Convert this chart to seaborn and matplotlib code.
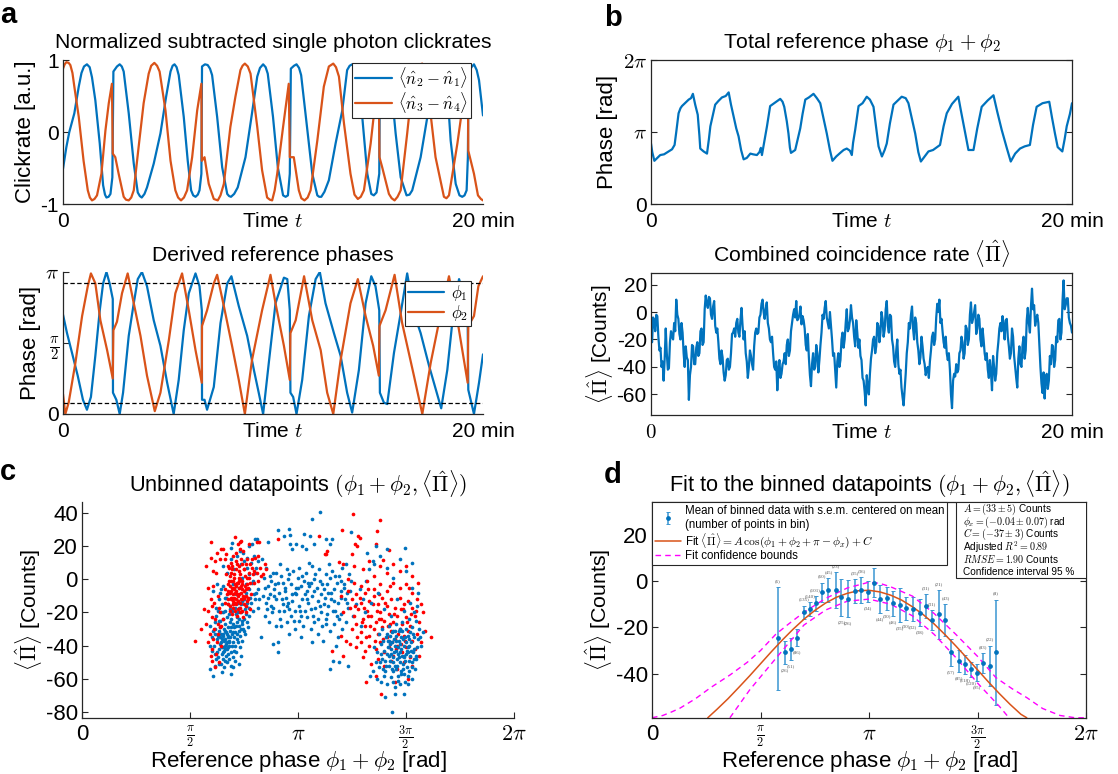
import numpy as np
import matplotlib
matplotlib.use("Agg")
import matplotlib.pyplot as plt
from matplotlib.patches import Rectangle
import seaborn as sns

BLUE = '#0072BD'
ORANGE = '#D95319'
RED = '#FF0000'
MAGENTA = '#FF00FF'
DARK = '#262626'

# panel a, top: clickrates as (t, value) pairs
n21_pts = [0,-.51,.16,-.21,.3,0,.54,.26,.75,.63,.88,.82,1.0,.91,1.14,.94,1.27,.90,1.38,.76,1.54,.44,1.75,-.16,1.91,-.74,2.0,-.87,2.07,-.91,2.17,-.90,2.26,-.86,2.35,-.63,2.4,.84,2.57,.91,2.7,.94,2.8,.91,2.89,.84,3.13,.26,3.37,-.44,3.56,-.84,3.66,-.89,3.75,-.91,3.88,-.86,4.0,-.77,4.32,-.44,4.64,-.02,4.91,.49,5.12,.84,5.22,.92,5.31,.94,5.41,.90,5.51,.79,5.75,.21,5.94,-.40,6.1,-.81,6.2,-.88,6.31,-.9,6.42,-.87,6.5,-.81,6.59,-.58,6.62,.91,6.76,.94,6.89,.93,7.0,.88,7.1,.79,7.34,.21,7.58,-.49,7.82,-.86,7.91,-.89,8.0,-.9,8.15,-.86,8.32,-.77,8.69,-.35,9.0,.26,9.25,.77,9.38,.89,9.53,.94,9.65,.90,9.75,.81,10.0,.21,10.23,-.49,10.48,-.88,10.6,-.9,10.71,-.88,10.8,-.58,10.85,.88,11.0,.92,11.12,.94,11.24,.89,11.34,.79,11.6,.12,11.87,-.58,12.11,-.88,12.2,-.9,12.3,-.9,12.45,-.83,12.66,-.67,12.98,-.16,13.3,.3,13.53,.86,13.65,.92,13.77,.94,13.9,.9,14.04,.81,14.25,.21,14.49,-.58,14.68,-.86,14.8,-.88,14.93,-.84,15.06,-.58,15.09,.91,15.36,.93,15.48,.87,15.6,.72,15.84,-.02,16.08,-.63,16.36,-.88,16.5,-.87,16.63,-.81,17.03,-.35,17.35,.21,17.66,.84,17.85,.92,18.01,.93,18.15,.87,18.27,.72,18.46,-.12,18.7,-.72,18.88,-.88,19.01,-.9,19.12,-.88,19.22,-.81,19.28,-.35,19.31,.81,19.45,.9,19.57,.94,19.7,.86,19.81,.72,20,.23]
n34_pts = [0,.88,.08,.94,.16,.97,.27,.96,.35,.93,.45,.82,.54,.63,.75,.21,.98,-.4,1.18,-.81,1.28,-.91,1.38,-.95,1.5,-.93,1.62,-.88,1.83,-.58,2.02,.02,2.18,.4,2.33,.67,2.37,-.3,2.49,-.35,2.65,-.58,2.89,-.9,3.0,-.94,3.13,-.95,3.25,-.91,3.37,-.81,3.6,-.21,3.84,.4,4.08,.81,4.2,.92,4.35,.96,4.48,.92,4.6,.84,4.88,.3,5.12,-.4,5.35,-.81,5.48,-.91,5.62,-.95,5.76,-.91,5.91,-.81,6.15,-.35,6.39,.3,6.59,.67,6.61,-.4,6.74,-.35,6.94,-.72,7.18,-.93,7.37,-.95,7.5,-.88,7.66,-.72,7.97,.07,8.21,.49,8.45,.86,8.55,.92,8.66,.95,8.8,.91,8.93,.81,9.25,.07,9.48,-.53,9.72,-.91,9.85,-.94,9.96,-.95,10.08,-.81,10.2,-.58,10.48,.07,10.75,.67,10.8,-.35,10.99,-.35,11.23,-.81,11.35,-.92,11.5,-.95,11.65,-.91,11.79,-.81,12.11,-.12,12.42,.63,12.66,.91,12.87,.95,13.0,.9,13.14,.77,13.38,.12,13.69,-.58,13.88,-.87,14.04,-.93,14.18,-.9,14.33,-.81,14.65,-.16,14.88,.44,15.04,.67,15.07,-.35,15.2,-.49,15.52,-.86,15.65,-.92,15.79,-.95,15.93,-.9,16.08,-.81,16.39,-.02,16.71,.86,16.9,.93,17.11,.95,17.27,.78,17.43,.44,17.74,-.35,18.14,-.9,18.26,-.92,18.38,-.88,18.78,-.16,19.09,.49,19.28,.67,19.3,-.26,19.57,-.58,19.76,-.88,19.9,-.93,20,-.95]

# panel a, bottom: phases in units of pi
t_phi1 = [0,.19,.43,.7,.95,1.14,1.33,1.54,1.75,1.91,2.07,2.22,2.37,2.38,2.54,2.7,2.86,3.13,3.37,3.56,3.76,4,4.32,4.64,4.96,5.27,5.51,5.75,5.99,6.31,6.5,6.61,6.62,6.74,6.86,7.18,7.5,7.82,8.02,8.37,8.77,9.09,9.32,9.53,9.8,10.12,10.52,10.68,10.8,10.83,10.96,11.12,11.39,11.71,12.03,12.23,12.5,12.9,13.22,13.53,13.77,14.09,14.41,14.68,14.88,15.06,15.09,15.28,15.44,15.76,16.08,16.39,16.71,17.03,17.43,18.01,18.3,18.62,18.86,19.09,19.27,19.3,19.57,19.81,20]
phi1 = [.70,.57,.43,.27,.10,.03,.12,.41,.73,.92,1.0,.92,.81,.15,.10,0,.15,.55,.78,.95,1.0,.90,.66,.48,.22,0,.24,.59,.85,.99,.9,.73,.10,.1,.03,.19,.64,.92,.97,.76,.55,.31,.15,0,.36,.78,.96,.95,.73,.15,.12,0,.24,.69,.95,1.0,.78,.57,.41,.15,.01,.31,.78,.97,.9,.73,.15,.08,.07,.43,.71,.99,.71,.57,.34,.04,.31,.76,.95,.83,.66,.17,0,.22,.42]
t_phi2 = [0,.11,.27,.59,.91,1.18,1.33,1.54,1.78,2.1,2.37,2.4,2.57,2.81,3.08,3.37,3.69,4,4.37,4.64,5.04,5.35,5.67,5.99,6.31,6.61,6.62,6.86,7.18,7.34,7.66,8.05,8.37,8.66,9.0,9.48,9.88,10.12,10.52,10.8,10.83,11.08,11.48,11.87,12.27,12.58,12.87,13.22,13.69,14.04,14.41,14.77,15.04,15.07,15.36,15.79,16.15,16.71,17.11,17.51,17.99,18.38,18.78,19.27,19.3,19.57,19.78,20]
phi2 = [.14,0,.08,.36,.69,.9,.99,.92,.66,.45,.25,.59,.65,.85,.99,.78,.55,.27,.02,.15,.52,.85,.99,.73,.45,.22,.62,.73,.92,.98,.76,.48,.24,0,.38,.73,.98,.78,.48,.24,.57,.66,.97,.66,.45,.15,0,.38,.78,.95,.69,.48,.27,.62,.73,.98,.64,.27,0,.36,.71,.97,.66,.22,.62,.69,.9,.97]
phase_guides = [.922, .075]

# panel b, top: total phase in units of pi, (t, value) pairs
total_pts = [0,.84,.06,.72,.16,.60,.3,.64,.44,.68,.62,.69,.84,.73,1.0,.76,1.12,.82,1.2,1.0,1.31,1.26,1.4,1.33,1.47,1.36,1.65,1.41,1.79,1.45,1.9,1.47,1.99,1.53,2.1,1.38,2.22,1.24,2.3,.95,2.34,.77,2.5,.73,2.66,.70,2.75,.9,2.82,1.08,2.95,1.25,3.05,1.38,3.2,1.43,3.37,1.48,3.55,1.5,3.69,1.55,3.8,1.38,3.92,1.22,4.05,1.05,4.16,.94,4.28,.75,4.4,.62,4.55,.64,4.72,.70,4.85,.69,5.03,.68,5.15,.72,5.22,.78,5.27,.68,5.4,.9,5.51,1.08,5.66,1.36,5.85,1.4,6.14,1.46,6.25,1.42,6.33,1.35,6.45,1.15,6.53,.98,6.6,.78,6.65,.71,6.85,.75,6.97,.9,7.09,1.05,7.2,1.25,7.33,1.45,7.5,1.48,7.72,1.53,7.88,1.47,8.04,1.4,8.2,1.18,8.35,.98,8.5,.75,8.62,.60,8.8,.66,8.99,.71,9.15,.75,9.3,.77,9.45,.74,9.54,.68,9.6,.85,9.7,1.03,9.86,1.36,10.05,1.4,10.25,1.49,10.4,1.45,10.57,1.35,10.7,1.05,10.81,.8,10.97,.66,11.1,.75,11.2,.84,11.35,1.12,11.52,1.38,11.7,1.43,11.91,1.49,12.1,1.47,12.23,1.4,12.4,1.18,12.55,.98,12.7,.72,12.82,.59,13.0,.66,13.18,.73,13.4,.75,13.73,.82,13.9,1.08,14.05,1.26,14.3,1.39,14.6,1.49,14.72,1.3,14.84,1.12,14.95,.95,15.08,.75,15.32,.75,15.5,1.05,15.71,1.35,16.0,1.44,16.27,1.51,16.45,1.28,16.66,1.03,16.9,.78,17.09,.59,17.3,.7,17.53,.77,17.75,.8,18.0,.82,18.15,1.1,18.32,1.35,18.6,1.4,18.92,1.42,19.05,1.2,19.19,.98,19.32,.79,19.54,.73,19.65,.9,19.75,1.08,19.9,1.25,20,1.4]

# panel b, bottom: coincidence rate, one reading every 0.05 min
rate = [-15,-22,-4,-6,-14,-2,-3,-18,-28,-26,-40,-36,-50,-34,-12,-30,-42,-41,-22,-14,-18,-20,-8,-14,9,-2,-5,-16,-20,-8,-15,-30,-40,-25,-33,-35,-64,-46,-40,-24,
        -25,-38,-38,-26,-22,-32,-30,-14,-12,-24,-22,2,12,6,3,11,10,-2,-5,4,8,-10,-15,-12,-22,-34,-38,-28,-33,-44,-50,-46,-35,-34,-42,-40,-30,-16,-15,-12,
        -18,-8,-5,-15,-18,-6,3,-10,-20,-14,-30,-36,-48,-40,-28,-32,-38,-42,-25,-15,-12,-16,-15,-4,-2,6,9,0,-5,2,7,-8,-12,-20,-22,-18,-30,-40,-42,-36,
        -57,-42,-35,-48,-45,-38,-36,-30,-38,-24,-20,-32,-28,-14,-8,-2,2,-4,8,-6,-5,-2,4,-9,-3,-6,-12,-24,-28,-16,-33,-46,-54,-38,-30,-42,-40,-24,-30,-44,
        -35,-24,-15,-2,-5,3,8,-4,-8,-12,0,-10,-20,-32,-30,-42,-55,-36,-30,-40,-35,-20,-15,-26,-20,-8,2,-14,-12,-6,5,-4,-8,-18,-25,-6,-15,-26,-20,-32,
        -35,-48,-50,-58,-68,-46,-55,-60,-45,-34,-28,-20,-18,-30,-25,-8,-10,-22,-15,0,-5,-18,-13,2,8,-10,-15,-2,-3,-20,-25,-36,-40,-28,-20,-38,-45,-42,-55,-62,
        -68,-56,-45,-30,-22,-8,-12,-2,4,-12,-20,-4,-8,-22,-28,-38,-33,-18,-25,-34,-38,-46,-42,-40,-48,-36,-28,-18,-15,-24,-20,-4,6,0,9,-8,-5,-14,-22,-26,
        -18,-30,-35,-30,-42,-60,-70,-50,-45,-47,-38,-44,-42,-30,-28,-18,-22,-34,-30,-10,-12,-24,-20,-2,7,-8,-5,0,5,-16,-12,-2,-5,-20,-25,-12,-20,-30,-35,-30,
        -42,-48,-35,-44,-57,-32,-40,-50,-45,-30,-22,-12,-8,-14,-3,-10,-20,-6,-5,-18,-25,-34,-30,-12,-18,-32,-40,-48,-55,-34,-25,-38,-40,-24,-18,-34,-28,-6,3,-8,
        -15,4,17,2,5,-10,-5,-2,-8,-24,-40,-52,-59,-44,-63,-48,-45,-56,-50,-32,-38,-24,-25,-40,-35,-18,-22,-6,-5,-20,-15,8,23,2,5,10,10,-4,-8,-10,-15]
t_rate = np.arange(len(rate)) / 20

# panel c: unbinned points, (phase / pi, counts) pairs
blue_left = [.617,-30,.632,-25,.601,-35,.643,-20,.594,-28,.612,-40,.627,-44,.655,-33,.661,-27,.673,-38,.684,-31,.692,-24,.703,-35,.711,-28,.724,-20,.736,-30,.741,-25,.753,-18,.762,-26,.774,-22,.642,-38,.651,-41,.664,-36,.671,-42,.682,-37,.694,-40,.705,-43,.716,-36,.722,-38,.733,-34,.745,-30,.623,-36,.637,-39,.646,-45,.653,-48,.667,-46,.676,-34,.688,-44,.697,-47,.707,-49,.713,-44,.726,-51,.734,-46,.621,-48,.634,-51,.604,-43,.592,-40,.614,-52,.657,-53,.672,-50,.691,-52,.662,-31,.675,-29,.683,-26,.652,-24,.635,-31,.622,-22,.644,-33,.696,-33,.702,-29,.717,-23,.725,-31,.743,-37,.756,-33,.768,-29,.731,-41,.665,-39,.678,-35,.681,-40,.658,-37,.647,-41,
 .608,-58,.646,-56,.692,-57,.592,-54,.668,-32,.659,-43,.649,-36,.674,-41,.639,-29,.687,-35,.698,-27,.709,-32,.719,-26,.728,-24,.738,-20,.748,-24,.758,-21,.772,-17,.782,-14,.791,-19,.803,-12,.813,-17,.794,-9,.776,-11,.766,-14,.752,-12,.738,-15,.724,-14,.708,-17,.695,-19,.679,-21,.663,-19,.648,-15,.633,-12,.619,-17,.606,-7,.626,-3,.641,-8,.654,-4,.668,-11,.682,-8,.697,-3,.711,-9,.726,-5,.741,1,.757,-3,.771,3,.786,-2,.801,4,.815,-6,.655,8,.671,4,.689,12,.704,6,.719,14,.735,9,.752,11,.766,7,.782,10,.797,14,.806,7,.817,11,.688,19,.695,22,.731,17,.771,20,.785,21.5,.8,24.5,.811,24.5,.746,16,.764,13,
 .651,-34,.656,-30,.67,-33,.679,-38,.689,-29,.7,-32,.66,-40,.654,-44,.664,-42,.675,-45,.641,-35,.636,-42,.629,-34,.615,-33,.606,-31,.618,-26,.628,-19,.641,-25,.654,-20,.669,-23,.683,-18,.697,-15,.712,-21,.727,-17,.74,-13,.757,-16,.698,-38,.708,-40,.718,-33,.729,-28,.74,-27,.75,-31,.68,-48,.661,-49,.7,-53,.645,-51,.63,-47,.617,-45,.677,-15,.66,-11,.645,-6,.76,-8,.775,-6,.79,-1,.805,-8,.82,-12]
blue_mid = [.86,22.5,.908,29.5,.958,30.6,.962,26.5,.935,26,1.03,27.5,1.054,26,1.103,40.6,1.065,36.6,1.13,24.5,1.157,24,1.246,28.5,1.15,21,1.072,21.5,.992,21,.965,21,1.018,20,1.038,18,.97,18,
 .835,12,.853,7,.886,4,.917,9,.948,6,.977,5,1.006,7,1.036,4,1.051,10,1.067,8,1.097,6,1.128,3,1.142,9,1.158,5,1.19,2,1.205,7,1.221,9,1.238,3,.842,1,.859,-4,.874,-1,.891,-6,.906,-2,.923,2,.938,-5,.952,0,.968,-3,.984,-8,.999,1,1.013,-4,1.028,-1,1.043,-7,1.059,-2,1.074,0,1.089,-5,1.103,-1,1.119,-6,1.135,-3,1.149,1,1.165,-6,1.181,-2,1.197,-7,1.211,-3,1.228,-8,1.245,-1,
 .838,-10,.854,-14,.869,-9,.884,-17,.899,-12,.914,-8,.93,-15,.945,-11,.959,-18,.974,-13,.989,-9,1.004,-16,1.018,-12,1.033,-19,1.048,-14,1.063,-10,1.078,-17,1.093,-13,1.108,-20,1.124,-11,1.139,-16,1.154,-12,1.169,-19,1.185,-14,1.201,-21,1.216,-12,1.232,-17,.849,-22,.866,-26,.881,-20,.898,-28,.915,-24,.933,-19,.951,-26,.969,-22,.987,-30,1.003,-25,1.021,-28,1.04,-23,1.058,-30,1.076,-26,1.094,-33,1.111,-28,1.13,-24,1.148,-31,1.166,-27,1.184,-35,1.202,-30,1.22,-26,.882,-39,.908,-38,.908,-44,.831,-35,1.146,-54,1.231,-52,1.192,-50,1.162,-49,.96,-33,1.012,-35,1.065,-38,1.115,-37,1.177,-40,1.255,-22,1.27,-15,1.286,-6,1.301,-12,1.315,-1,1.33,6,1.345,11,
 .846,-5,.862,-11,.877,-16,.893,-3,.91,-19,.925,-12,.941,-7,.956,-14,.971,-9,.986,-19,1.002,-5,1.016,-22,1.031,-9,1.046,-2,1.06,-18,1.075,-7,1.091,-24,1.106,-9,1.12,-15,1.136,-21,1.151,-8,1.167,-13,1.182,-22,1.198,-11,1.213,-5,1.229,-14,1.243,-7,.87,2,.9,4,.93,-2,.96,3,.99,-5,1.02,2,1.05,-4,1.08,3,1.11,-3,1.14,-8,1.17,2,1.2,-1,.855,-18,.888,-10,.92,-28,.95,-16,.98,-25,1.01,-19,1.04,-12,1.07,-22,1.1,-16,1.13,-27,1.16,-19,1.19,-24]
blue_right = [1.434,-80,1.403,-71,1.451,-69,1.492,-69,1.332,-58,1.349,-55,1.366,-60,1.382,-62,1.398,-58,1.414,-63,1.431,-59,1.447,-65,1.463,-61,1.478,-57,1.494,-62,1.51,-58,1.526,-60,1.542,-54,1.36,-50,1.376,-53,1.391,-48,1.407,-52,1.422,-46,1.438,-50,1.453,-54,1.469,-47,1.484,-51,1.499,-45,1.515,-49,1.531,-44,1.547,-48,1.352,-41,1.368,-44,1.384,-39,1.399,-43,1.415,-37,1.43,-42,1.446,-36,1.461,-41,1.477,-35,1.492,-40,1.508,-34,1.523,-38,1.539,-42,1.555,-36,1.57,-40,1.58,-32,1.375,-33,1.391,-30,1.406,-35,1.421,-28,1.437,-32,1.452,-27,1.468,-31,1.483,-26,1.499,-30,1.514,-24,1.53,-29,1.546,-25,1.561,-30,1.456,-37,1.471,-44,1.443,-44,1.458,-48,1.474,-39,1.489,-46,1.428,-39,1.412,-45,1.44,-55,1.46,-52,1.475,-55,1.395,-37,1.51,-41,1.505,-53,1.49,-57,1.422,-52,1.402,-55,1.52,-32,1.535,-20,1.55,-16,1.52,-14,1.49,-19,1.46,-12,1.43,-22,1.4,-18,1.37,-8,1.34,-14,1.31,-20,1.29,-28,1.555,-8,1.53,-5,1.5,5,1.47,12,1.44,1,1.41,7,1.38,14,1.35,9,1.32,16,1.36,20,1.41,18,1.497,19,1.528,10,
 1.426,-34,1.434,-38,1.441,-31,1.448,-40,1.455,-34,1.463,-45,1.47,-30,1.478,-42,1.485,-36,1.493,-47,1.5,-38,1.507,-44,1.515,-36,1.522,-43,1.53,-50,1.537,-35,1.545,-46,1.418,-41,1.425,-49,1.433,-54,1.44,-47,1.448,-52,1.456,-43,1.464,-58,1.472,-50,1.48,-46,1.487,-54,1.495,-49,1.503,-43,1.512,-55,1.52,-46,1.528,-53,1.536,-48,1.41,-33,1.42,-37,1.43,-45,1.45,-31,1.466,-37,1.482,-31,1.497,-35,1.516,-40,1.533,-33,1.55,-41,1.565,-35,1.405,-49,1.392,-54,1.385,-45,1.378,-50,1.47,-63,1.44,-62,1.51,-63]
red_left = [.598,22.5,.642,18.5,.654,18.5,.709,25.5,.731,22.5,.737,23,.72,21,.808,22.5,.82,22.5,.774,21.5,.906,24,.845,9,.83,2,.815,-1,.79,3,.802,13,.817,14,
 .66,12,.675,8,.69,10,.7,14,.712,11,.725,8,.735,12,.748,6,.76,9,.772,4,.785,7,.797,5,.668,3,.681,-1,.692,4,.703,1,.714,6,.722,-2,.731,3,.742,-1,.753,2,.764,-3,.775,1,.661,-6,.674,-3,.684,-8,.693,-5,.701,-9,.708,-3,.715,-7,.722,-10,.729,-5,.736,-8,.743,-3,.751,-7,.76,-10,.77,-5,.782,-9,.662,-14,.674,-12,.686,-16,.697,-13,.706,-11,.714,-15,.723,-13,.732,-17,.741,-12,.752,-15,.764,-13,.776,-18,.683,-19,.695,-21,.707,-19,.719,-22,.731,-20,.744,-23,.757,-20,.699,-1,.705,-6,.711,-12,.718,-9,.692,-11,.688,-7,.726,-9,.733,0,.696,8,.711,16,.665,15,.733,18,.746,17,
 .625,16,.615,11,.608,5,.596,13,.64,12,.62,4,.605,-4,.598,-12,.585,-19,.6,-23,.613,-14,.628,-10,.641,-20,.632,-17,.652,-24,.628,-27,.612,-30,.592,-33,.608,-36,.63,-33,.644,-40,.6,-42,.582,-38,.621,-45,.601,-49,.615,-53,.635,-50,.638,-29,.595,-46,.645,-28,.525,-37,.572,-27,.567,-18,.551,-30,.582,-5,.572,8,.6,-16,.618,-24,.625,-38,
 .677,-7,.683,-4,.689,-1,.696,-11,.702,-5,.709,-8,.716,-2,.72,-13,.727,-1,.734,-12,.74,-6,.747,-10,.755,-4,.763,1,.77,-12,.778,-2,.686,2,.694,6,.706,3,.717,9,.728,5,.74,9,.752,6,.764,12,.776,9,.788,12,.67,-9,.678,-15,.688,-12,.699,-17,.71,-14,.72,-18,.73,-14,.74,-19,.75,-11,.76,-16,.77,-11,.682,7,.7,-15,.715,-4,.725,1,.737,-4,.758,-6,.795,-2,.81,4,.825,7,.84,3,.85,6]
red_right = [1.255,39.6,1.378,35.6,1.205,29.5,1.365,29,1.277,26,1.285,25,1.263,21.5,1.274,20,1.362,21,1.095,26,1.423,17.5,1.134,17,1.123,15,1.251,15,1.13,15,1.192,10.5,1.392,11.5,1.615,-35,1.315,-62,1.385,-69,1.208,-46,1.158,-43,
 1.21,9,1.26,8,1.3,6,1.33,11,1.35,2,1.38,8,1.41,4,1.44,9,1.47,5,1.5,8,1.53,2,1.23,0,1.26,-2,1.29,-4,1.32,-1,1.35,-6,1.38,-3,1.41,-7,1.44,-2,1.47,-5,1.5,-3,1.53,-8,1.555,-2,1.2,-10,1.23,-7,1.25,-12,1.27,-9,1.29,-14,1.31,-8,1.33,-13,1.35,-10,1.37,-15,1.39,-11,1.41,-16,1.43,-12,1.45,-17,1.47,-11,1.49,-15,1.51,-13,1.53,-17,1.55,-12,1.57,-15,1.21,-20,1.24,-17,1.26,-22,1.28,-18,1.3,-24,1.32,-19,1.34,-22,1.36,-26,1.38,-20,1.4,-25,1.42,-21,1.44,-26,1.46,-22,1.48,-27,1.5,-23,1.52,-28,1.54,-22,1.56,-26,1.58,-20,1.25,-30,1.27,-27,1.29,-32,1.31,-28,1.33,-34,1.35,-30,1.37,-33,1.39,-29,1.41,-35,1.43,-31,1.45,-36,1.47,-30,1.49,-34,1.51,-31,1.53,-37,1.55,-33,1.57,-38,1.59,-31,1.2,-34,1.22,-37,1.24,-39,1.27,-41,1.29,-38,1.31,-43,1.33,-40,1.36,-42,1.38,-38,1.4,-44,1.42,-41,1.44,-46,1.46,-40,1.48,-44,1.5,-41,1.52,-47,1.54,-42,1.56,-46,1.3,-47,1.34,-51,1.37,-48,1.4,-52,1.43,-49,1.46,-54,1.49,-50,1.53,-52,1.36,-58,1.45,-62,1.51,-60,
 1.265,-16,1.285,-11,1.305,-17,1.325,-22,1.345,-15,1.365,-19,1.385,-24,1.405,-14,1.425,-27,1.445,-21,1.465,-33,1.485,-18,1.505,-26,1.525,-21,1.275,-35,1.295,-26,1.315,-35,1.335,-28,1.355,-37,1.375,-24,1.395,-36,1.415,-28,1.435,-38,1.455,-42,1.475,-39,1.495,-37,1.325,-6,1.375,-9,1.425,-4,1.475,-18,1.515,-5,1.545,-19]

# panel d: bins
bin_x = [.581,.611,.639,.667,.699,.727,.754,.785,.813,.846,.873,.903,.935,.965,.994,1.023,1.052,1.081,1.111,1.141,1.172,1.203,1.233,1.261,1.29,1.323,1.352,1.379,1.413,1.441,1.469,1.498,1.525,1.556,1.584]
bin_y = [-24.7,-30.8,-29.3,-24.4,-13.5,-12.1,-9.6,-4.9,-3.9,-3.9,-7.1,-7.6,-4.3,-3.9,-4.6,-.7,-7.6,-7.5,-9.6,-10.4,-11.7,-12.2,-13.6,-10.8,-16.8,-14.3,-16.8,-30.8,-34.4,-36,-38,-39.6,-35.3,-36.5,-30.8]
bin_err = [22.2,4.8,4.7,3.5,2.9,2.9,3.2,4.2,5.1,7.7,7.8,7.9,5.2,5.7,4.6,6.4,6,4.9,5.5,7.2,5,5.2,5.7,5.2,4.4,10.5,6.9,5.7,4.7,4.1,3.2,3.6,4.2,8.6,22.8]
bin_n = [6,26,51,86,135,140,101,60,45,23,25,26,35,36,34,37,44,30,46,35,30,32,38,31,31,21,43,57,85,118,120,95,83,22,8]
n_above = [0,4,5,6,7,8,9,12,13,15,23,24,25,26,32,33,34]

fit_x = [.257,.3,.35,.4,.45,.5,.55,.6,.65,.7,.75,.8,.85,.9,.95,1,1.05,1.1,1.15,1.2,1.25,1.3,1.35,1.4,1.45,1.5,1.55,1.6,1.65,1.7,1.727]
fit_y = [-59,-55.3,-50.8,-45.9,-40.9,-35.7,-30.5,-25.5,-20.8,-16.5,-12.7,-9.5,-7,-5.3,-4.2,-4,-4.7,-6.1,-8.2,-11.1,-14.5,-18.5,-23.1,-28,-33.1,-38.3,-43.5,-48.5,-53.2,-57.5,-59]
upper_x = [0,.05,.09,.13,.2,.27,.36,.44,.5,.57,.63,.7,.8,.9,1,1.05,1.1,1.2,1.3,1.4,1.5,1.585,1.66,1.727,1.8,1.88,1.95,2]
upper_y = [-59,-58,-56.5,-54.8,-50.8,-46,-40.5,-35,-30,-23,-18.5,-13.5,-7.5,-3,-.5,-1,-2.5,-6.5,-14,-23,-32.5,-41.7,-46.5,-50.3,-55,-58,-59,-59]
lower_x = [.359,.45,.574,.7,.8,.9,1,1.1,1.2,1.3,1.4,1.5,1.6,1.645]
lower_y = [-59,-47,-33,-19,-12.5,-8.7,-7.8,-10,-15,-23,-33,-44,-54,-59]

stats_lines = [r'$A = (33 \pm 5)$ Counts', r'$\phi_x = (-0.04 \pm 0.07)$ rad', r'$C = (-37 \pm 3)$ Counts',
               r'Adjusted $R^2 = 0.89$', r'$RMSE = 1.90$ Counts', 'Confidence interval 95 %']

time_ticks = ['0', r'Time $t$', '20 min']
pi_ticks = ['0', r'$\frac{\pi}{2}$', r'$\pi$', r'$\frac{3\pi}{2}$', r'$2\pi$']

sns.set_theme(style='ticks')
plt.rcParams['font.family'] = ['Liberation Sans', 'DejaVu Sans']
plt.rcParams['mathtext.fontset'] = 'cm'
plt.rcParams['text.color'] = 'black'
plt.rcParams['axes.labelcolor'] = 'black'
plt.rcParams['axes.edgecolor'] = DARK
plt.rcParams['axes.linewidth'] = 0.9
plt.rcParams['xtick.direction'] = 'in'
plt.rcParams['ytick.direction'] = 'in'
plt.rcParams['xtick.color'] = DARK
plt.rcParams['ytick.color'] = DARK
plt.rcParams['xtick.labelcolor'] = 'black'
plt.rcParams['ytick.labelcolor'] = 'black'

W, H = 1118, 774
fig = plt.figure(figsize=(W / 100, H / 100), dpi=100)


def make_axes(left, top, right, bottom, box=False):
    ax = fig.add_axes([left / W, 1 - bottom / H, (right - left) / W, (bottom - top) / H])
    if not box:
        sns.despine(ax=ax)
    return ax


def time_axis(ax, title, ylabel, pad=9):
    ax.set_xlim(0, 20)
    ax.set_xticks([0, 10, 20], time_ticks)
    ax.tick_params(axis='x', length=0, labelsize=15, pad=6)
    ax.tick_params(axis='y', length=4, labelsize=15, pad=3, width=0.8)
    ax.set_xlabel('')
    ax.set_ylabel(ylabel, fontsize=16, labelpad=3)
    ax.set_title(title, fontsize=15.2, pad=pad)


def pi_axis(ax, title):
    ax.set_xlim(0, 2)
    ax.set_xticks([0, .5, 1, 1.5, 2], pi_ticks)
    ax.tick_params(axis='x', length=4, labelsize=16, pad=4.5, width=0.8)
    ax.tick_params(axis='y', length=4, labelsize=16, pad=3, width=0.8)
    # the fractions are set smaller than the other tick labels
    for tick in [ax.get_xticklabels()[1], ax.get_xticklabels()[3]]:
        tick.set_fontsize(12.5)
    ax.set_xlabel(r'Reference phase $\phi_1 + \phi_2$ [rad]', fontsize=16)
    ax.xaxis.set_label_coords(0.5, -0.143)
    ax.set_ylabel(r'$\langle\hat{\Pi}\rangle$ [Counts]', fontsize=15.4, labelpad=1)
    ax.set_title(title, fontsize=15.7, pad=7)


def line(ax, x, y, color=BLUE, lw=1.6, label=None, ls='-'):
    sns.lineplot(x=x, y=y, ax=ax, color=color, linewidth=lw, label=label,
                 linestyle=ls, estimator=None, sort=False)


def small_legend(ax, center):
    ax.legend(loc='center', bbox_to_anchor=center, fontsize=12, fancybox=False, framealpha=1,
              edgecolor=DARK, borderpad=0.15, labelspacing=0.0, handlelength=2.2,
              handletextpad=0.4, borderaxespad=0).get_frame().set_linewidth(0.8)


# a top
ax = make_axes(63, 60, 483, 204)
arr21 = np.array(n21_pts).reshape(-1, 2)
arr34 = np.array(n34_pts).reshape(-1, 2)
line(ax, arr21[:, 0], arr21[:, 1], label=r'$\langle\hat{n}_2-\hat{n}_1\rangle$')
line(ax, arr34[:, 0], arr34[:, 1], color=ORANGE, label=r'$\langle\hat{n}_3-\hat{n}_4\rangle$')
ax.set_ylim(-1, 1)
ax.set_yticks([-1, 0, 1], ['-1', '0', '1'])
time_axis(ax, 'Normalized subtracted single photon clickrates', 'Clickrate [a.u.]')
small_legend(ax, (0.83, 0.79))

# a bottom
ax = make_axes(63, 272, 483, 414)
line(ax, t_phi1, phi1, label=r'$\phi_1$')
line(ax, t_phi2, phi2, color=ORANGE, label=r'$\phi_2$')
for level in phase_guides:
    ax.axhline(level, color='black', lw=0.9, ls=(0, (3.5, 2)))
ax.set_ylim(0, 1)
ax.set_yticks([0, .5, 1], ['0', r'$\frac{\pi}{2}$', r'$\pi$'])
time_axis(ax, 'Derived reference phases', 'Phase [rad]', pad=8)
small_legend(ax, (0.893, 0.78))

# b top
ax = make_axes(651, 60, 1072, 204, box=True)
arr_total = np.array(total_pts).reshape(-1, 2)
line(ax, arr_total[:, 0], arr_total[:, 1])
ax.set_ylim(0, 2)
ax.set_yticks([0, 1, 2], ['0', r'$\pi$', r'$2\pi$'])
ax.tick_params(right=True)
time_axis(ax, r'Total reference phase $\phi_1 + \phi_2$', 'Phase [rad]')

# b bottom
ax = make_axes(651, 273, 1072, 415, box=True)
line(ax, t_rate, rate, lw=1.6)
ax.set_ylim(-75, 28.4)
ax.set_yticks([20, 0, -20, -40, -60], ['20', '0', '-20', '-40', '-60'])
ax.tick_params(right=True)
time_axis(ax, r'Combined coincidence rate $\langle\hat{\Pi}\rangle$', r'$\langle\hat{\Pi}\rangle$ [Counts]', pad=8)
ax.set_xticks([0, 10, 20], [r'$0$', r'Time $t$', '20 min'])
ax.set_ylabel(r'$\langle\hat{\Pi}\rangle$ [Counts]', fontsize=15, labelpad=1)

# c
ax = make_axes(82, 502, 514, 718)
for pts, col in [(blue_left, BLUE), (blue_mid, BLUE), (red_left, RED), (red_right, RED), (blue_right, BLUE)]:
    arr = np.array(pts).reshape(-1, 2)
    sns.scatterplot(x=arr[:, 0], y=arr[:, 1], ax=ax, color=col, s=7, linewidth=0)
ax.set_ylim(-83.6, 46.6)
ax.set_yticks([40, 20, 0, -20, -40, -60, -80], ['40', '20', '0', '-20', '-40', '-60', '-80'])
pi_axis(ax, r'Unbinned datapoints $(\phi_1 + \phi_2, \langle\hat{\Pi}\rangle)$')

# d
ax = make_axes(652, 502, 1086, 718, box=True)
ax.errorbar(bin_x, bin_y, yerr=bin_err, fmt='o', ms=2.4, color=BLUE, ecolor='#3A96D2', elinewidth=1.1,
            capsize=1.4, capthick=0.7, label='Mean of binned data with s.e.m. centered on mean\n(number of points in bin)')
line(ax, fit_x, fit_y, color=ORANGE, lw=1.1, label=r'Fit $\langle\hat{\Pi}\rangle = A\,\cos(\phi_1 + \phi_2 + \pi - \phi_x) + C$')
line(ax, upper_x, upper_y, color=MAGENTA, lw=1.0, ls=(0, (4, 3)), label='Fit confidence bounds')
line(ax, lower_x, lower_y, color=MAGENTA, lw=1.0, ls=(0, (4, 3)))
for i, n in enumerate(bin_n):
    above = i in n_above
    end = bin_y[i] + bin_err[i] if above else bin_y[i] - bin_err[i]
    ax.annotate(f'({n})', (bin_x[i], end), xytext=(0, 3 if above else -3), textcoords='offset points',
                ha='center', va='bottom' if above else 'top', fontsize=3.6, color='#555555', family='Liberation Serif')
ax.set_ylim(-59.1, 34.1)
ax.set_yticks([20, 0, -20, -40], ['20', '0', '-20', '-40'])
ax.tick_params(right=True)
pi_axis(ax, r'Fit to the binned datapoints $(\phi_1 + \phi_2, \langle\hat{\Pi}\rangle)$')
handles, labels = ax.get_legend_handles_labels()
order = [labels.index(lab) for lab in labels if lab.startswith('Mean')] + [labels.index(lab) for lab in labels if not lab.startswith('Mean')]
leg = ax.legend([handles[i] for i in order], [labels[i] for i in order], loc='upper left', bbox_to_anchor=(0, 1),
                fontsize=8.3, fancybox=False, framealpha=1, edgecolor=DARK, borderpad=0.25, labelspacing=0.05,
                handlelength=2.3, handletextpad=0.3, borderaxespad=0)
leg.get_frame().set_linewidth(0.8)

# fit summary box, placed in pixels
ax.add_patch(Rectangle((956, H - 578), 131, 76, transform=None, fc='white', ec=DARK, lw=0.8, zorder=6))
for text, y in zip(stats_lines, [509, 522, 534, 547, 559, 572]):
    fig.text(963 / W, 1 - y / H, text, fontsize=7.2, va='center', ha='left', zorder=7)

# panel letters
for letter, x, y in [('a', 0, 23), ('b', 604, 26), ('c', 0, 480), ('d', 604, 483)]:
    fig.text(x / W, 1 - y / H, letter, fontsize=21, fontweight='bold', color='black', va='baseline')

fig.savefig('out.png', dpi=100)
